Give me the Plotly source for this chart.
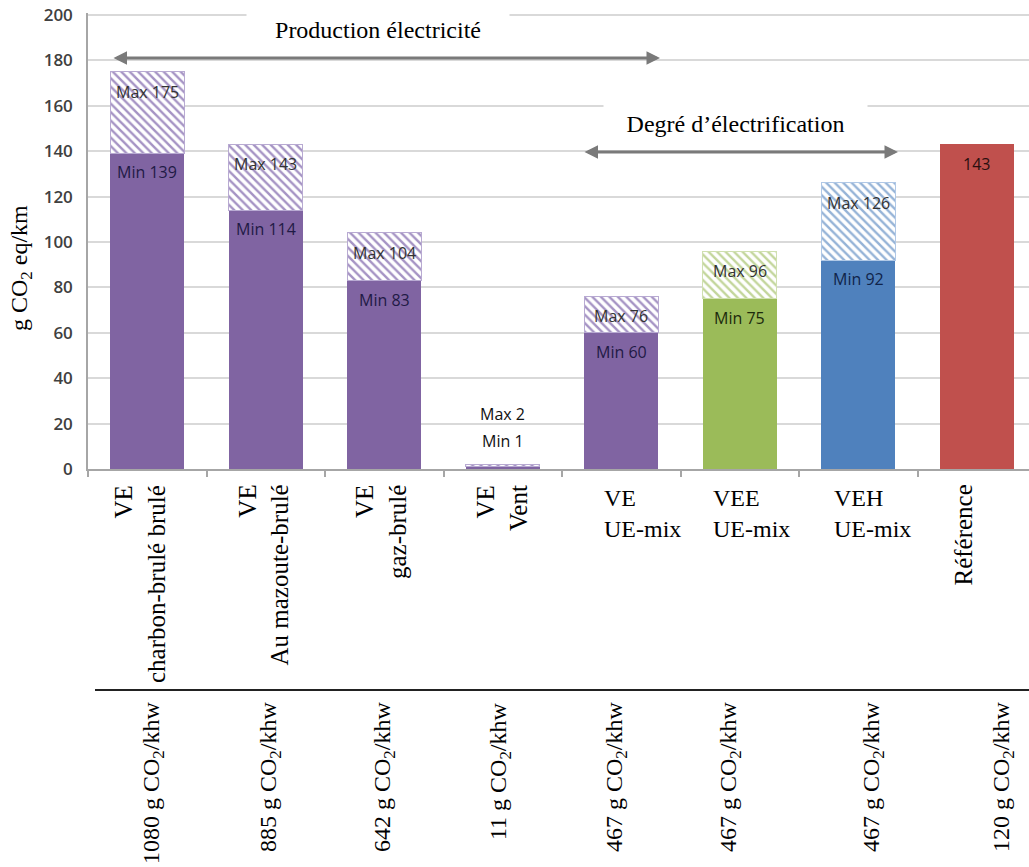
import plotly.graph_objects as go

# ---- data -------------------------------------------------------------
categories = ["VE charbon", "VE mazoute", "VE gaz", "VE vent",
              "VE UE-mix", "VEE UE-mix", "VEH UE-mix", "Référence"]
min_values = [139, 114, 83, 1, 60, 75, 92, 143]
max_values = [175, 143, 104, 2, 76, 96, 126, 143]
category_labels = ["VE<br>charbon-brulé brulé", "VE<br>Au mazoute-brulé",
                   "VE<br>gaz-brulé", "VE<br>Vent", "VE<br>UE-mix",
                   "VEE<br>UE-mix", "VEH<br>UE-mix", "Référence"]
intensity_labels = ["1080 g CO<sub>2</sub>/khw", "885 g CO<sub>2</sub>/khw",
                    "642 g CO<sub>2</sub>/khw", "11 g CO<sub>2</sub>/khw",
                    "467 g CO<sub>2</sub>/khw", "467 g CO<sub>2</sub>/khw",
                    "467 g CO<sub>2</sub>/khw", "120 g CO<sub>2</sub>/khw"]

# ---- styling ----------------------------------------------------------
PURPLE, GREEN, BLUE, RED = "#8064A2", "#9BBB59", "#4F81BD", "#C0504D"
solid_colors = [PURPLE] * 5 + [GREEN, BLUE, RED]
hatch_colors = ["#a593c4"] * 5 + ["#c3d69b", "#95b3d7", RED]
hatch_edges = ["#b8aad2"] * 5 + ["#d0e0b0", "#b0c8e6", RED]
min_text_colors = ["#1f1a45"] * 5 + ["#1d2a0c", "#10244a", "#2a0f0f"]

SERIF = "Liberation Serif"
SANS = "Open Sans"

# plot area geometry (pixels); the value axis runs slightly past 200 so
# that the 200 gridline is drawn inside the plot area
W, H = 1029, 867
L, R, T, B = 88, 0, 13, 398
PW, PH = W - L - R, H - T - B
X_RANGE = [-0.5, 7.44]
Y_TOP = 200 * PH / (H - B - 15)
Y_RANGE = [0, Y_TOP]


def x_at(px):
    """x-axis (category index) value at a given page pixel column."""
    return X_RANGE[0] + (px - L) / PW * (X_RANGE[1] - X_RANGE[0])


def paper_y(py):
    """paper y-fraction at a given page pixel row."""
    return (H - B - py) / PH


def y_at(py):
    return Y_TOP * paper_y(py)


fig = go.Figure()

fig.add_trace(go.Bar(
    x=categories, y=min_values,
    marker=dict(color=solid_colors, line=dict(width=0)),
    hoverinfo="skip", showlegend=False,
))
fig.add_trace(go.Bar(
    x=categories, y=[mx - mn for mn, mx in zip(min_values, max_values)],
    marker=dict(
        color="white",
        line=dict(color=hatch_edges, width=1),
        pattern=dict(shape="\\", fgcolor=hatch_colors, bgcolor="white",
                     size=6, solidity=0.4, fillmode="replace"),
    ),
    hoverinfo="skip", showlegend=False,
))

annotations = []

# value labels on the bars
LAB = 16
for i, (mn, mx) in enumerate(zip(min_values, max_values)):
    lab_font = dict(family=SANS, size=LAB, color=min_text_colors[i])
    if mx == mn:
        annotations.append(dict(x=i, y=mn, xref="x", yref="y", text=str(mn),
                                showarrow=False, yanchor="top", yshift=-7,
                                font=lab_font))
        continue
    if mn < 10:
        annotations.append(dict(x=i, y=mx, xref="x", yref="y", text=f"Min {mn}",
                                showarrow=False, yanchor="bottom", yshift=10,
                                font=dict(family=SANS, size=LAB, color="#111")))
        annotations.append(dict(x=i, y=mx, xref="x", yref="y", text=f"Max {mx}",
                                showarrow=False, yanchor="bottom", yshift=37,
                                font=dict(family=SANS, size=LAB, color="#111")))
        continue
    annotations.append(dict(x=i, y=mn, xref="x", yref="y", text=f"Min {mn}",
                            showarrow=False, yanchor="top", yshift=-6,
                            font=lab_font))
    annotations.append(dict(x=i, y=mx, xref="x", yref="y", text=f"Max {mx}",
                            showarrow=False, yanchor="top", yshift=-7,
                            font=dict(family=SANS, size=LAB, color="#333333")))

# category labels under the axis
rot_label_px = {0: 140, 1: 263, 2: 381, 3: 502, 7: 963}
flat_label_px = {4: 602, 5: 711, 6: 832}
for i, txt in enumerate(category_labels):
    if i in rot_label_px:
        annotations.append(dict(x=x_at(rot_label_px[i]), y=paper_y(483),
                                xref="x", yref="paper", text=txt, textangle=-90,
                                align="right", xanchor="center", yanchor="top",
                                showarrow=False,
                                font=dict(family=SERIF, size=25, color="black")))
    else:
        annotations.append(dict(x=x_at(flat_label_px[i]), y=paper_y(483),
                                xref="x", yref="paper", text=txt,
                                align="left", xanchor="left", yanchor="top",
                                showarrow=False,
                                font=dict(family=SERIF, size=24, color="black")))

# emission intensity row
intensity_px = [153, 270, 384, 500, 616, 730, 873, 1003]
for px, txt in zip(intensity_px, intensity_labels):
    annotations.append(dict(x=x_at(px), y=paper_y(700), xref="x", yref="paper",
                            text=txt, textangle=-90, xanchor="center",
                            yanchor="top", showarrow=False,
                            font=dict(family=SERIF, size=24, color="black")))

# double-headed arrows with their captions
for (x0, x1, py) in [(112, 660, 58), (583, 898, 152)]:
    annotations.append(dict(x=x_at(x1), y=y_at(py), ax=x_at(x0), ay=y_at(py),
                            xref="x", yref="y", axref="x", ayref="y", text="",
                            showarrow=True, arrowhead=2, arrowside="end+start",
                            arrowsize=0.9, arrowwidth=3, arrowcolor="#7a7a7a",
                            standoff=0, startstandoff=0))

for (txt, cx, cy, bw) in [("Production électricité", 378, 30, 260),
                          ("Degré d’électrification", 735, 124, 261)]:
    annotations.append(dict(x=x_at(cx), y=y_at(cy), xref="x", yref="y",
                            text=txt, showarrow=False, bgcolor="white",
                            width=bw, height=40, xanchor="center",
                            yanchor="middle",
                            font=dict(family=SERIF, size=24, color="black")))

# y-axis title
annotations.append(dict(x=(21 - L) / PW, y=paper_y(268), xref="paper",
                        yref="paper", text="g CO<sub>2</sub> eq/km",
                        textangle=-90, showarrow=False, xanchor="center",
                        yanchor="middle",
                        font=dict(family=SERIF, size=24, color="black")))

fig.update_layout(
    width=W, height=H,
    margin=dict(l=L, r=R, t=T, b=B, pad=0),
    paper_bgcolor="white", plot_bgcolor="white",
    barmode="stack", bargap=0.375,
    annotations=annotations,
    shapes=[dict(type="line", xref="paper", yref="paper",
                 x0=(95 - L) / PW, x1=1.0, y0=paper_y(690), y1=paper_y(690),
                 line=dict(color="#222222", width=2))],
    xaxis=dict(range=X_RANGE, showticklabels=False, showgrid=False,
               showline=True, linecolor="#a6a6a6", linewidth=1.5,
               ticks="outside", tickson="boundaries", ticklen=6,
               tickcolor="#a6a6a6", tickwidth=1.5, zeroline=False),
    yaxis=dict(range=Y_RANGE, tick0=0, dtick=20, showgrid=True,
               gridcolor="#d9d9d9", gridwidth=1.5, showline=True,
               linecolor="#a6a6a6", linewidth=1.5, zeroline=False, ticks="",
               ticklabelstandoff=10,
               tickfont=dict(family=SANS, size=17, color="#404040",
                             weight=600)),
)

fig.write_html("out.html")
